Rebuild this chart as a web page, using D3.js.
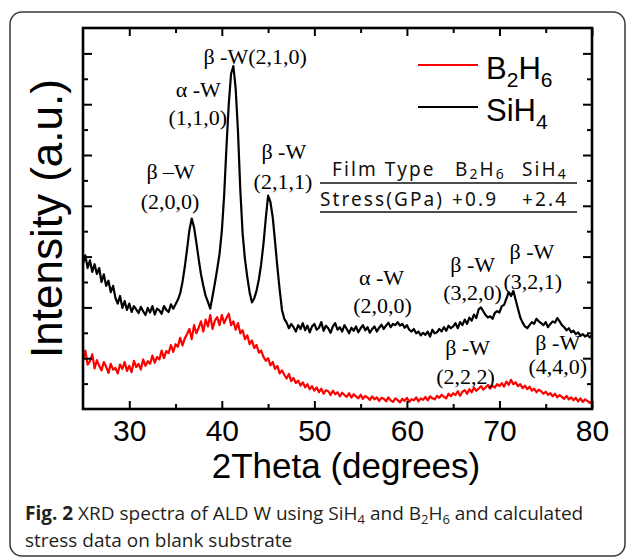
<!DOCTYPE html>
<html>
<head>
<meta charset="utf-8">
<script src="https://cdn.jsdelivr.net/npm/d3@7"></script>
<style>
  body { margin: 0; background: #fff; }
  svg { display: block; }
</style>
</head>
<body>
<div id="chart"></div>
<script>
// XRD scan: 2theta from 25 to 80 deg, 0.25 deg steps
var thetaStart = 25, thetaStep = 0.25;

// SiH4 intensity (a.u.)
var sih4 = [
  5.72, 6.05, 5.55, 5.85, 5.40, 5.70, 5.32, 5.55, 5.00, 5.30, 4.85, 5.05,
  4.60, 4.85, 4.38, 4.15, 4.45, 3.98, 4.25, 3.90, 4.15, 3.82, 4.05, 3.92,
  3.78, 4.02, 3.85, 3.70, 3.98, 3.80, 4.05, 3.72, 3.95, 3.88, 3.75, 4.05,
  3.90, 3.82, 4.12, 3.95,
  4.12, 4.30, 4.55, 5.00, 5.60, 6.30, 7.05, 7.50, 7.15, 6.55, 5.90, 5.30,
  4.85, 4.45, 4.22, 3.95, 4.45, 4.95, 5.50, 6.10, 7.00, 8.40, 10.30, 12.00,
  13.20, 13.50, 12.60, 10.90, 8.60, 6.90, 5.90, 5.20, 4.60, 4.20, 4.35, 4.65,
  5.10, 5.70, 6.50, 7.50, 8.40, 8.15, 7.55, 6.60, 5.60, 4.70, 3.90, 3.55,
  3.40, 3.18, 3.35, 3.22, 3.05, 3.30, 3.15, 3.38, 3.10, 3.28, 3.02, 3.25,
  3.35, 3.12, 3.20, 3.42, 3.08, 3.28, 3.18, 3.00, 3.25, 3.38, 3.12, 3.22,
  3.05, 3.30, 3.15, 2.98, 3.20, 3.08, 3.25, 3.02, 3.18, 3.30, 3.10, 3.22,
  3.00, 3.15, 3.25, 3.05, 3.20, 3.32, 3.15, 3.28, 3.40, 3.22, 3.35, 3.30,
  3.42, 3.28, 3.35, 3.20, 3.30, 3.12, 3.05, 3.15, 2.98, 3.05, 2.90, 3.00,
  2.92, 3.05, 2.85, 3.12, 2.98, 3.02, 3.15, 3.05, 3.22, 3.08, 3.28, 3.18,
  3.25, 3.38, 3.18, 3.42, 3.30, 3.52, 3.35, 3.60, 3.48, 3.72, 3.58, 3.92,
  4.00, 3.85, 3.70, 3.60, 3.65, 3.55, 3.78, 3.85, 3.80, 4.05, 4.10, 4.35,
  4.60, 4.45, 4.65, 4.30, 3.95, 3.60, 3.40, 3.25, 3.18, 3.30, 3.42, 3.35,
  3.55, 3.45, 3.38, 3.30, 3.42, 3.22, 3.35, 3.45, 3.40, 3.58, 3.45, 3.30,
  3.22, 3.10, 3.18, 3.02, 3.08, 2.95, 3.02, 2.88, 2.95, 2.85, 2.92, 2.82,
  2.90
];

// B2H6 intensity (a.u.)
var b2h6 = [
  1.95, 2.30, 1.75, 1.88, 2.15, 1.60, 1.92, 1.70, 1.52, 1.85, 1.66, 1.42,
  1.78, 1.55, 1.62, 1.40, 1.75, 1.58, 1.85, 1.50, 1.70, 1.45, 1.90, 1.65,
  1.78, 1.55, 1.95, 1.70, 1.88, 1.78, 2.10, 1.82, 2.05, 1.95, 2.30, 2.00,
  2.28, 2.20, 2.52, 2.25,
  2.55, 2.45, 2.80, 2.50, 2.78, 2.95, 3.15, 2.75, 3.30, 2.98, 3.20, 3.45,
  3.05, 3.52, 3.25, 3.70, 3.15, 3.48, 3.62, 3.30,
  3.70, 3.38, 3.58, 3.75, 3.30, 3.45, 3.12, 3.38, 2.98, 3.10, 2.75, 2.90,
  2.55, 2.70, 2.40, 2.52, 2.22, 2.30, 2.05, 1.90,
  2.00, 1.72, 1.85, 1.58, 1.70, 1.40, 1.52, 1.35, 1.20, 1.38, 1.10, 1.22,
  1.02, 1.12, 0.92, 1.05, 0.85, 0.98, 0.78, 0.90,
  0.72, 0.85, 0.66, 0.80, 0.60, 0.74, 0.70, 0.55, 0.72, 0.58, 0.66, 0.50,
  0.64, 0.55, 0.48, 0.62, 0.45, 0.58, 0.50, 0.42,
  0.56, 0.40, 0.52, 0.45, 0.36, 0.50, 0.38, 0.46, 0.32, 0.44, 0.40, 0.30,
  0.46, 0.34, 0.28, 0.42, 0.35, 0.26, 0.40, 0.32,
  0.44, 0.28, 0.38, 0.34, 0.46, 0.30, 0.42, 0.36, 0.48, 0.34, 0.50, 0.42,
  0.38, 0.52, 0.44, 0.56, 0.48, 0.42, 0.60, 0.50,
  0.62, 0.55, 0.70, 0.52, 0.68, 0.74, 0.60, 0.78, 0.66, 0.84, 0.72, 0.80,
  0.90, 0.76, 0.85, 0.95, 0.80, 0.92, 0.84, 0.98,
  0.90, 1.02, 0.88, 1.08, 0.95, 1.15, 0.98, 1.05, 0.90, 0.98, 0.82, 0.92,
  0.78, 0.88, 0.72, 0.80, 0.66, 0.76, 0.70, 0.60,
  0.68, 0.56, 0.62, 0.50, 0.60, 0.46, 0.55, 0.48, 0.40, 0.52, 0.38, 0.46,
  0.34, 0.44, 0.30, 0.42, 0.28, 0.38, 0.32, 0.24,
  0.30
];

var xMajor = [30, 40, 50, 60, 70, 80];
var xMinor = [35, 45, 55, 65, 75];
var yMajor = [2, 4, 6, 8, 10, 12, 14];
var yMinor = [1, 3, 5, 7, 9, 11, 13];

// peak labels: [2theta, intensity, text]
var peakLabels = [
  [43.6, 13.58, "β -W(2,1,0)"],
  [37.45, 12.28, "α -W"],
  [37.4, 11.18, "(1,1,0)"],
  [46.7, 9.84, "β -W"],
  [46.6, 8.66, "(2,1,1)"],
  [34.47, 9.06, "β –W"],
  [34.4, 7.87, "(2,0,0)"],
  [57.25, 4.88, "α -W"],
  [57.36, 3.78, "(2,0,0)"],
  [67.1, 5.39, "β -W"],
  [67.1, 4.29, "(3,2,0)"],
  [73.5, 5.91, "β -W"],
  [73.6, 4.72, "(3,2,1)"],
  [66.56, 2.13, "β -W"],
  [66.34, 0.98, "(2,2,2)"],
  [76.3, 2.32, "β -W"],
  [76.3, 1.38, "(4,4,0)"]
];

var tableHead = ["Film Type", ["B", "2", "H", "6"], ["SiH", "4"]];
var tableRow = ["Stress(GPa)", "+0.9", "+2.4"];

var W = 630, H = 559;
var pLeft = 83, pRight = 592, pTop = 28, pBottom = 409;

var svg = d3.select("#chart").append("svg")
    .attr("width", W)
    .attr("height", H);

// outer frame
svg.append("rect")
    .attr("x", 10).attr("y", 12)
    .attr("width", 615).attr("height", 544)
    .attr("rx", 12)
    .attr("fill", "none")
    .attr("stroke", "#3a3a3a")
    .attr("stroke-width", 1.5);

var x = d3.scaleLinear().domain([25, 80]).range([pLeft, pRight]);
var y = d3.scaleLinear().domain([0, 15]).range([pBottom, pTop]);

function pts(arr) {
    return arr.map(function (v, i) { return [thetaStart + i * thetaStep, v]; });
}

var line = d3.line()
    .x(function (d) { return x(d[0]); })
    .y(function (d) { return y(d[1]); });

svg.append("path")
    .datum(pts(b2h6))
    .attr("d", line)
    .attr("fill", "none")
    .attr("stroke", "#ff0000")
    .attr("stroke-width", 2.2)
    .attr("stroke-linejoin", "round");

svg.append("path")
    .datum(pts(sih4))
    .attr("d", line)
    .attr("fill", "none")
    .attr("stroke", "#000")
    .attr("stroke-width", 2.2)
    .attr("stroke-linejoin", "round");

// axes: ticks point inward on all four sides
function addAxis(axis, tx, ty) {
    var g = svg.append("g")
        .attr("transform", "translate(" + tx + "," + ty + ")")
        .call(axis);
    g.select(".domain").remove();
    g.selectAll("line").attr("stroke", "#000").attr("stroke-width", 2);
    return g;
}

var xb = addAxis(d3.axisBottom(x).tickValues(xMajor).tickSize(-8).tickPadding(11), 0, pBottom);
xb.selectAll("text")
    .attr("font-family", "'Liberation Sans', Arial, sans-serif")
    .attr("font-size", 30)
    .attr("fill", "#000");
addAxis(d3.axisBottom(x).tickValues(xMinor).tickSize(-5).tickFormat(""), 0, pBottom);
addAxis(d3.axisTop(x).tickValues(xMajor).tickSize(-8).tickFormat(""), 0, pTop);
addAxis(d3.axisTop(x).tickValues(xMinor).tickSize(-5).tickFormat(""), 0, pTop);
addAxis(d3.axisLeft(y).tickValues(yMajor).tickSize(-9).tickFormat(""), pLeft, 0);
addAxis(d3.axisLeft(y).tickValues(yMinor).tickSize(-5).tickFormat(""), pLeft, 0);
addAxis(d3.axisRight(y).tickValues(yMajor).tickSize(-9).tickFormat(""), pRight, 0);
addAxis(d3.axisRight(y).tickValues(yMinor).tickSize(-5).tickFormat(""), pRight, 0);

svg.append("rect")
    .attr("x", pLeft).attr("y", pTop)
    .attr("width", pRight - pLeft).attr("height", pBottom - pTop)
    .attr("fill", "none")
    .attr("stroke", "#000")
    .attr("stroke-width", 2.6);

// axis titles
svg.append("text")
    .attr("x", 346)
    .attr("y", 478)
    .attr("text-anchor", "middle")
    .attr("font-family", "'Liberation Sans', Arial, sans-serif")
    .attr("font-size", 35)
    .text("2Theta (degrees)");

svg.append("text")
    .attr("transform", "translate(62," + ((pTop + pBottom) / 2) + ") rotate(-90)")
    .attr("text-anchor", "middle")
    .attr("font-family", "'Liberation Sans', Arial, sans-serif")
    .attr("font-size", 44)
    .text("Intensity (a.u.)");

// peak labels
svg.append("g")
    .selectAll("text")
    .data(peakLabels)
    .join("text")
    .attr("x", function (d) { return x(d[0]); })
    .attr("y", function (d) { return y(d[1]); })
    .attr("text-anchor", "middle")
    .attr("font-family", "'Liberation Serif', 'Times New Roman', serif")
    .attr("font-size", 22)
    .text(function (d) { return d[2]; });

// legend
var legend = svg.append("g")
    .attr("font-family", "'Liberation Sans', Arial, sans-serif")
    .attr("font-size", 31);
[["#ff0000", ["B", "2", "H", "6"], 65, 79], ["#000", ["SiH", "4"], 107, 121]].forEach(function (l) {
    legend.append("line")
        .attr("x1", 418).attr("x2", 478)
        .attr("y1", l[2]).attr("y2", l[2])
        .attr("stroke", l[0]).attr("stroke-width", 2.2);
    var t = legend.append("text").attr("x", 486).attr("y", l[3]);
    l[1].forEach(function (s, i) {
        var sub = i % 2 === 1;
        t.append("tspan")
            .attr("font-size", sub ? 21 : 31)
            .attr("dy", i === 0 ? 0 : (sub ? 8 : -8))
            .text(s);
    });
});

// stress table
var tbl = svg.append("g")
    .attr("font-family", "'Noto Sans', 'Open Sans', sans-serif")
    .attr("font-size", 19)
    .attr("letter-spacing", 2.1)
    .attr("fill", "#111");
var headX = [332, 455, 522], rowX = [320, 452, 522];
tableHead.forEach(function (h, i) {
    var t = tbl.append("text").attr("x", headX[i]).attr("y", 176);
    var parts = typeof h === "string" ? [h] : h;
    parts.forEach(function (s, j) {
        var sub = j % 2 === 1;
        t.append("tspan")
            .attr("font-size", sub ? 14 : 19)
            .attr("dy", j === 0 ? 0 : (sub ? 3 : -3))
            .text(s);
    });
});
tableRow.forEach(function (s, i) {
    tbl.append("text").attr("x", rowX[i]).attr("y", 206).text(s);
});
[183, 212].forEach(function (ly) {
    tbl.append("line")
        .attr("x1", 320).attr("x2", 577)
        .attr("y1", ly).attr("y2", ly)
        .attr("stroke", "#111").attr("stroke-width", 1.3);
});

// caption
var cap = svg.append("g")
    .attr("font-family", "'Open Sans', 'Noto Sans', sans-serif")
    .attr("font-size", 19)
    .attr("fill", "#231f20");
var c1 = cap.append("text").attr("x", 25).attr("y", 520);
c1.append("tspan").attr("font-weight", "bold").text("Fig. 2");
[[" XRD spectra of ALD W using SiH", 0], ["4", 1], [" and B", 0], ["2", 1], ["H", 0], ["6", 1], [" and calculated", 0]]
    .forEach(function (p, i, arr) {
        var prevSub = i > 0 && arr[i - 1][1] === 1;
        c1.append("tspan")
            .attr("font-size", p[1] ? 13 : 19)
            .attr("dy", p[1] ? 4 : (prevSub ? -4 : 0))
            .text(p[0]);
    });
cap.append("text").attr("x", 25).attr("y", 547).text("stress data on blank substrate");
</script>
</body>
</html>
